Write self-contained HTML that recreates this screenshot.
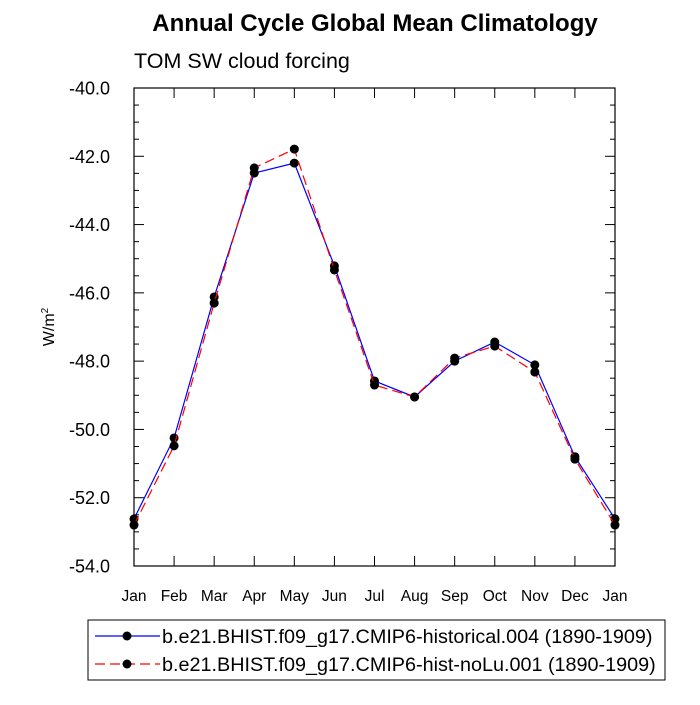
<!DOCTYPE html>
<html><head><meta charset="utf-8"><style>
body{margin:0;background:#fff;}
svg text{font-family:"Liberation Sans",sans-serif;}
</style></head><body>
<svg width="700" height="700" xmlns="http://www.w3.org/2000/svg">
<text x="375" y="31" text-anchor="middle" font-size="24" font-weight="bold">Annual Cycle Global Mean Climatology</text>
<text x="134" y="68" font-size="21.5">TOM SW cloud forcing</text>
<text transform="translate(54,327) rotate(-90)" text-anchor="middle" font-size="16">W/m<tspan dy="-6" font-size="10">2</tspan></text>
<g id="axes"></g>
<g id="series"></g>
<rect x="88" y="620" width="577" height="60" fill="none" stroke="#000" stroke-width="1"/>
<g id="legend"></g>
</svg>
<script>
const months=["Jan","Feb","Mar","Apr","May","Jun","Jul","Aug","Sep","Oct","Nov","Dec","Jan"];
const historical=[-52.62,-50.25,-46.12,-42.49,-42.2,-45.21,-48.58,-49.05,-48.0,-47.44,-48.11,-50.8,-52.62];
const histNoLu=[-52.8,-50.48,-46.3,-42.34,-41.79,-45.33,-48.7,-49.05,-47.91,-47.56,-48.32,-50.87,-52.8];
const yTicks=[-40,-42,-44,-46,-48,-50,-52,-54];
const yTickLabels=["-40.0","-42.0","-44.0","-46.0","-48.0","-50.0","-52.0","-54.0"];
const legendLabels=["b.e21.BHIST.f09_g17.CMIP6-historical.004 (1890-1909)","b.e21.BHIST.f09_g17.CMIP6-hist-noLu.001 (1890-1909)"];
const NS="http://www.w3.org/2000/svg";
const L=134,R=615,T=88,B=566,yMin=-54,yMax=-40;
const x=i=>L+(R-L)*i/(months.length-1);
const y=v=>B-(v-yMin)/(yMax-yMin)*(B-T);
function mk(tag,attrs,parent){const e=document.createElementNS(NS,tag);for(const k in attrs)e.setAttribute(k,attrs[k]);parent.appendChild(e);return e;}
const ax=document.getElementById('axes');
const frame=mk('rect',{x:L,y:T,width:R-L,height:B-T,fill:'none',stroke:'#000','stroke-width':1.2},ax);


for(let v=yMin;v<=yMax+1e-9;v+=0.5){
  const major=Math.abs(v%2)<1e-6;const len=major?10:5;
  mk('line',{x1:L,x2:L+len,y1:y(v),y2:y(v),stroke:'#000'},ax);
  mk('line',{x1:R,x2:R-len,y1:y(v),y2:y(v),stroke:'#000'},ax);
}
yTicks.forEach((v,i)=>{const t=mk('text',{x:L-24,y:y(v)+6.5,'text-anchor':'end','font-size':18},ax);t.textContent=yTickLabels[i];

});
months.forEach((m,i)=>{
  mk('line',{x1:x(i),x2:x(i),y1:B,y2:B-10,stroke:'#000'},ax);
  mk('line',{x1:x(i),x2:x(i),y1:T,y2:T+10,stroke:'#000'},ax);
  const t=mk('text',{x:x(i),y:B+35,'text-anchor':'middle','font-size':15.5},ax);t.textContent=m;
  
  
});
const sg=document.getElementById('series');
function series(vals,color,dash,name){
  const g=mk('g',{},sg);
  
  
  mk('polyline',{points:vals.map((v,i)=>x(i)+','+y(v)).join(' '),fill:'none',stroke:color,'stroke-width':1.2,'stroke-dasharray':dash},g);
  vals.forEach((v,i)=>{const c=mk('circle',{cx:x(i),cy:y(v),r:4.5,fill:'#000'},g);
    
    });
}
series(historical,'#0000ff','none','series-historical');
series(histNoLu,'#ff0000','10,5','series-hist-nolu');
const lg=document.getElementById('legend');
[['#0000ff','none'],['#ff0000','10,5']].forEach((s,i)=>{
  const yy=636+i*28;
  const g=mk('g',{},lg);
  
  
  mk('line',{x1:95,x2:160,y1:yy,y2:yy,stroke:s[0],'stroke-width':1.2,'stroke-dasharray':s[1]},g);
  mk('circle',{cx:127,cy:yy,r:4.5,fill:'#000'},g);
  const t=mk('text',{x:162,y:yy+7,'font-size':19.8},g);t.textContent=legendLabels[i];
});
</script>
</body></html>
